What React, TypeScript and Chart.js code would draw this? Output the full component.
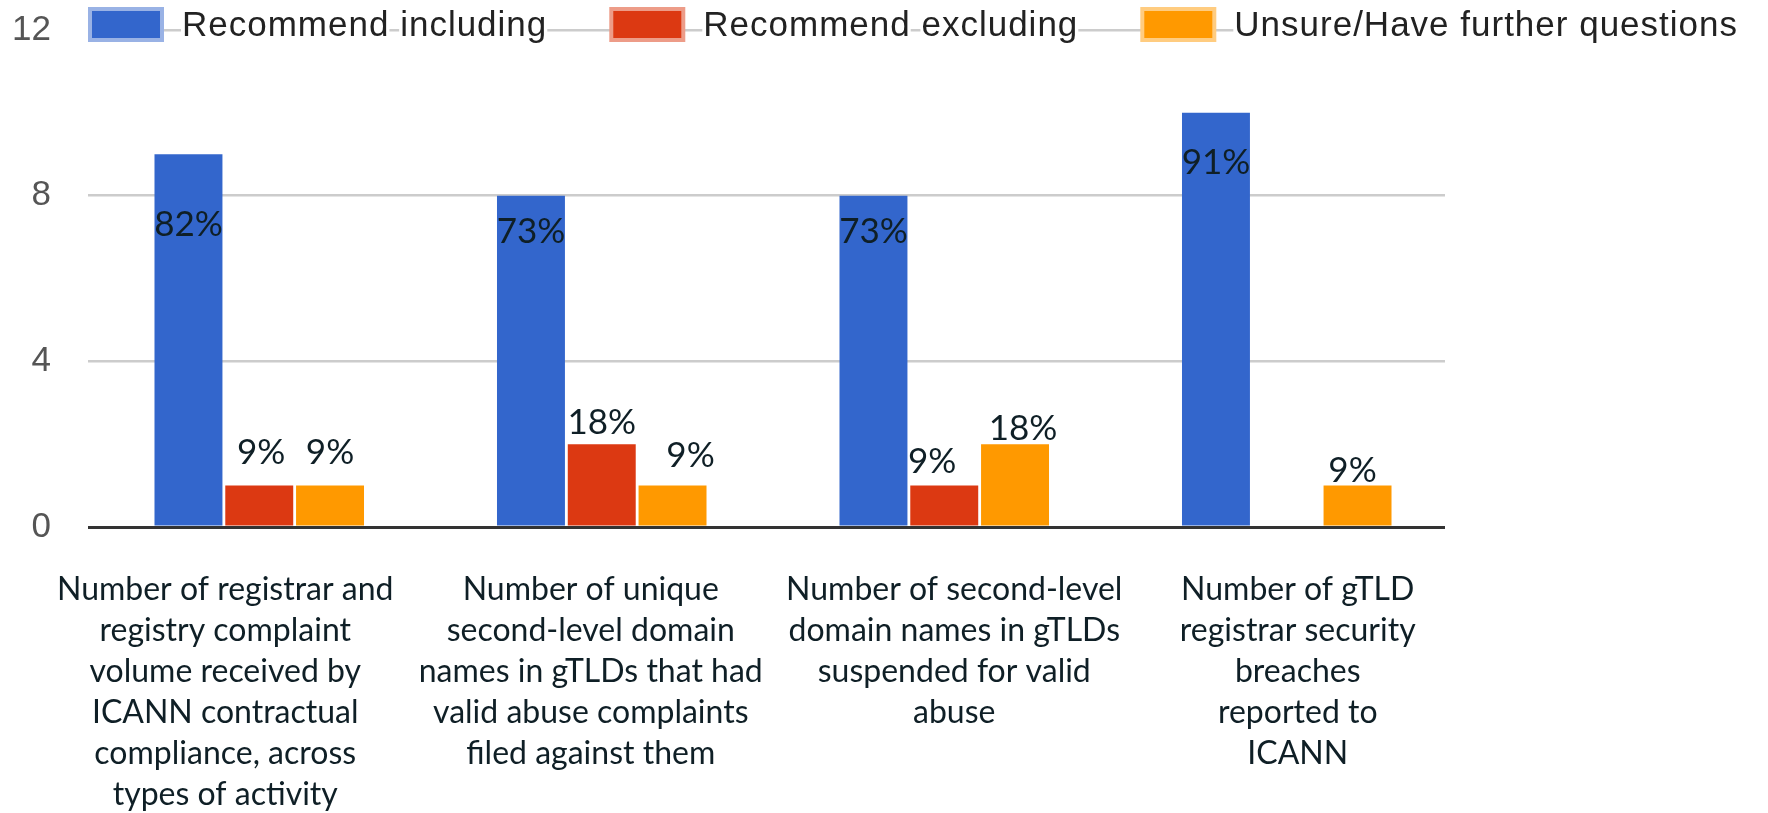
import React, { useEffect, useRef } from "react";
import { Chart, registerables } from "chart.js";

Chart.register(...registerables);

// ---------- data ----------
const categories: string[][] = [
  ["Number of registrar and", "registry complaint", "volume received by", "ICANN contractual", "compliance, across", "types of activity"],
  ["Number of unique", "second-level domain", "names in gTLDs that had", "valid abuse complaints", "filed against them"],
  ["Number of second-level", "domain names in gTLDs", "suspended for valid", "abuse"],
  ["Number of gTLD", "registrar security", "breaches", "reported to", "ICANN"],
];
const seriesNames = ["Recommend including", "Recommend excluding", "Unsure/Have further questions"];
const recommendIncluding = [9, 8, 8, 10];
const recommendExcluding = [1, 2, 1, 0];
const unsureFurtherQuestions = [1, 1, 2, 1];
const yTickValues = [0, 4, 8, 12];

// ---------- styles ----------
const barColors = ["#3366CC", "#DC3912", "#FF9900"];
const legendBorderColors = ["#99B2E5", "#ED9C88", "#FFCC80"];
// percent label nudges relative to the bar top (px), per series per category
const labelNudgeY = [
  [70, 36, 36, 50],
  [-33, -21, -24, 0],
  [-33, -30, -15, -15],
];
const labelNudgeX = [
  [0, 0, 0, 0],
  [2, 0, -12, 0],
  [0, 18, 8, -5],
];
// category label horizontal nudges (px) relative to the category centre
const categoryLabelNudgeX = [-34, -11, 10, 11];

const seriesValues = [recommendIncluding, recommendExcluding, unsureFurtherQuestions];

const gridTrimPlugin = {
  id: "gridTrim",
  beforeDatasetsDraw(chart: any) {
    const ctx = chart.ctx;
    const a = chart.chartArea;
    ctx.save();
    ctx.fillStyle = "#ffffff";
    ctx.fillRect(a.right - 13, a.top - 4, 20, a.bottom - a.top + 8);
    ctx.restore();
  },
};

const percentLabelPlugin = {
  id: "percentLabels",
  afterDatasetsDraw(chart: any) {
    const ctx = chart.ctx;
    ctx.save();
    ctx.font = '35px Lato, "Open Sans", sans-serif';
    ctx.fillStyle = "#0f1f26";
    ctx.textAlign = "center";
    ctx.textBaseline = "middle";
    chart.data.datasets.forEach((ds: any, i: number) => {
      const meta = chart.getDatasetMeta(i);
      meta.data.forEach((el: any, j: number) => {
        const v = ds.data[j];
        if (!v) return;
        const total = seriesValues.reduce((s, arr) => s + arr[j], 0);
        const pct = Math.round((v / total) * 100) + "%";
        ctx.fillText(pct, el.x + labelNudgeX[i][j], el.y + labelNudgeY[i][j]);
      });
    });
    ctx.restore();
  },
};

const categoryLabelPlugin = {
  id: "categoryLabels",
  afterDraw(chart: any) {
    const ctx = chart.ctx;
    const xs = chart.scales.x;
    ctx.save();
    ctx.font = '32px Lato, "Open Sans", sans-serif';
    ctx.fillStyle = "#0f1f26";
    ctx.textAlign = "center";
    ctx.textBaseline = "middle";
    const lineH = 41;
    const firstY = chart.chartArea.bottom + 63;
    categories.forEach((lines, i) => {
      const cx = xs.getPixelForValue(i) + categoryLabelNudgeX[i];
      lines.forEach((line, k) => ctx.fillText(line, cx, firstY + k * lineH));
    });
    ctx.restore();
  },
};

const topLegendPlugin = {
  id: "topLegend",
  afterDraw(chart: any) {
    const ctx = chart.ctx;
    ctx.save();
    ctx.font = '35px "Liberation Sans", Arial, sans-serif';
    try { (ctx as any).letterSpacing = "1px"; } catch (e) {}
    ctx.textAlign = "left";
    ctx.textBaseline = "alphabetic";
    const boxW = 76, boxH = 35, boxTop = 7, bw = 4;
    let x = chart.chartArea.left;
    seriesNames.forEach((name, i) => {
      ctx.fillStyle = legendBorderColors[i];
      ctx.fillRect(x, boxTop, boxW, boxH);
      ctx.fillStyle = barColors[i];
      ctx.fillRect(x + bw, boxTop + bw, boxW - 2 * bw, boxH - 2 * bw);
      x += boxW + 18;
      const words = name.split(" ");
      const spaceW = ctx.measureText(" ").width;
      let wx = x;
      ctx.fillStyle = "#ffffff";
      words.forEach((w) => {
        const ww = ctx.measureText(w).width;
        ctx.fillRect(wx - 1, 3, ww + 1, 44);
        wx += ww + spaceW;
      });
      ctx.fillStyle = "#222222";
      ctx.fillText(name, x, 36);
      x += ctx.measureText(name).width + 62;
    });
    ctx.restore();
  },
};

export default function App() {
  const canvasRef = useRef<HTMLCanvasElement | null>(null);

  useEffect(() => {
    if (!canvasRef.current) return;
    const chart = new Chart(canvasRef.current, {
      type: "bar",
      data: {
        labels: categories.map((c) => c.join(" ")),
        datasets: seriesNames.map((name, i) => ({
          label: name,
          data: seriesValues[i],
          backgroundColor: barColors[i],
          borderWidth: 0,
          categoryPercentage: 0.62,
          barPercentage: 0.96,
        })),
      },
      options: {
        animation: false,
        responsive: false,
        maintainAspectRatio: false,
        layout: { padding: { top: 30, left: 0, right: 310, bottom: 0 } },
        plugins: {
          legend: { display: false },
          tooltip: { enabled: false },
          title: { display: false },
        },
        scales: {
          x: {
            grid: { display: false, drawTicks: false },
            border: { display: false },
            ticks: { display: false },
            afterFit: (s: any) => { s.height = 286; s.paddingLeft = 0; s.paddingRight = 0; },
          },
          y: {
            min: 0,
            max: 12,
            afterBuildTicks: (s: any) => { s.ticks = yTickValues.map((v) => ({ value: v })); },
            grid: {
              drawTicks: false,
              color: (c: any) => (c.tick && c.tick.value === 0 ? "#333333" : "#cccccc"),
              lineWidth: (c: any) => (c.tick && c.tick.value === 0 ? 3 : 2.5),
            },
            border: { display: false },
            ticks: {
              padding: 37,
              color: "#555555",
              font: { family: '"Liberation Sans", Arial, sans-serif', size: 35 },
            },
            afterFit: (s: any) => { s.width = 88; s.paddingTop = 0; s.paddingBottom = 0; },
          },
        },
      },
      plugins: [gridTrimPlugin, percentLabelPlugin, categoryLabelPlugin, topLegendPlugin],
    });
    return () => chart.destroy();
  }, []);

  return (
    <div style={{ position: "fixed", left: 0, top: 0, width: 1768, height: 813, background: "#ffffff" }}>
      <canvas ref={canvasRef} width={1768} height={813} style={{ display: "block" }} />
    </div>
  );
}
